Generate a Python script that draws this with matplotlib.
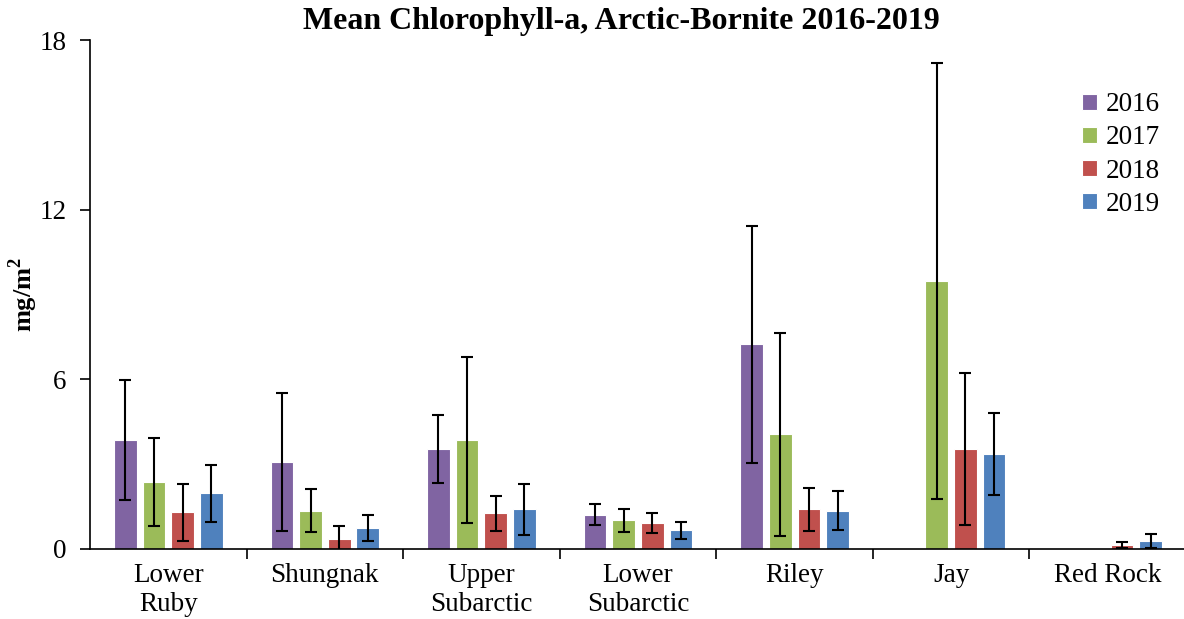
import matplotlib
matplotlib.use("Agg")
import matplotlib.pyplot as plt
import numpy as np

categories = ["Lower\nRuby", "Shungnak", "Upper\nSubarctic", "Lower\nSubarctic", "Riley", "Jay", "Red Rock"]
years = ["2016", "2017", "2018", "2019"]
nan = np.nan
means = {
    "2016": [3.85, 3.08, 3.54, 1.21, 7.24, nan, nan],
    "2017": [2.37, 1.36, 3.85, 1.01, 4.05, 9.48, nan],
    "2018": [1.30, 0.35, 1.26, 0.92, 1.40, 3.54, 0.13],
    "2019": [1.97, 0.74, 1.41, 0.67, 1.36, 3.36, 0.28],
}
errors = {
    "2016": [2.12, 2.45, 1.20, 0.37, 4.19, nan, nan],
    "2017": [1.55, 0.77, 2.93, 0.41, 3.60, 7.72, nan],
    "2018": [1.00, 0.45, 0.62, 0.35, 0.75, 2.70, 0.11],
    "2019": [1.00, 0.47, 0.90, 0.30, 0.69, 1.44, 0.25],
}
colors = {"2016": "#8064A2", "2017": "#9BBB59", "2018": "#C0504D", "2019": "#4F81BD"}

plt.rcParams['font.family'] = ['Liberation Serif', 'DejaVu Serif']

fig = plt.figure(figsize=(11.84, 6.19), dpi=100)
ax = fig.add_axes([90/1184, 1-549/619, 1096/1184, (549-40)/619])

x = np.arange(len(categories))
stride = 0.183
width = 0.145
for i, yr in enumerate(years):
    pos = x + (i - 1.5) * stride
    ax.bar(pos, means[yr], width=width, color=colors[yr], edgecolor='white', linewidth=0.8,
           label=yr, zorder=2)
    ax.errorbar(pos, means[yr], yerr=errors[yr], fmt='none', ecolor='black',
                elinewidth=1.5, capsize=4.5, capthick=1.5, zorder=3)

ax.set_xlim(-0.5, len(categories) - 0.5)
ax.set_ylim(0, 18)
ax.set_yticks([0, 6, 12, 18])
ax.tick_params(axis='y', labelsize=19.5, direction='out', length=7, width=1.2, pad=10)
ax.set_xticks(x)
ax.set_xticklabels(categories, fontsize=19.5, linespacing=1.2)
ax.tick_params(axis='x', which='major', length=0, pad=10)
ax.set_xticks(np.arange(0.5, len(categories) - 1, 1), minor=True)
ax.tick_params(axis='x', which='minor', length=7, width=1.2, direction='out')
ax.spines['top'].set_visible(False)
ax.spines['right'].set_visible(False)
ax.spines['left'].set_linewidth(1.2)
ax.spines['bottom'].set_linewidth(1.2)

ax.set_ylabel("mg/m$^\\mathregular{2}$", fontsize=19, fontweight='bold')
ax.yaxis.set_label_coords(-50/1096, 0.5)
fig.text(621/1184, 1-22/619, "Mean Chlorophyll-a, Arctic-Bornite 2016-2019", fontsize=23,
         fontweight='bold', ha='center', va='center')

fig.legend(loc='upper left', bbox_to_anchor=(1058/1184, 1-68/619), frameon=False, fontsize=19.5,
           handlelength=0.55, handleheight=0.55, handletextpad=0.3, labelspacing=0.3)

fig.savefig("out.png", dpi=100)
